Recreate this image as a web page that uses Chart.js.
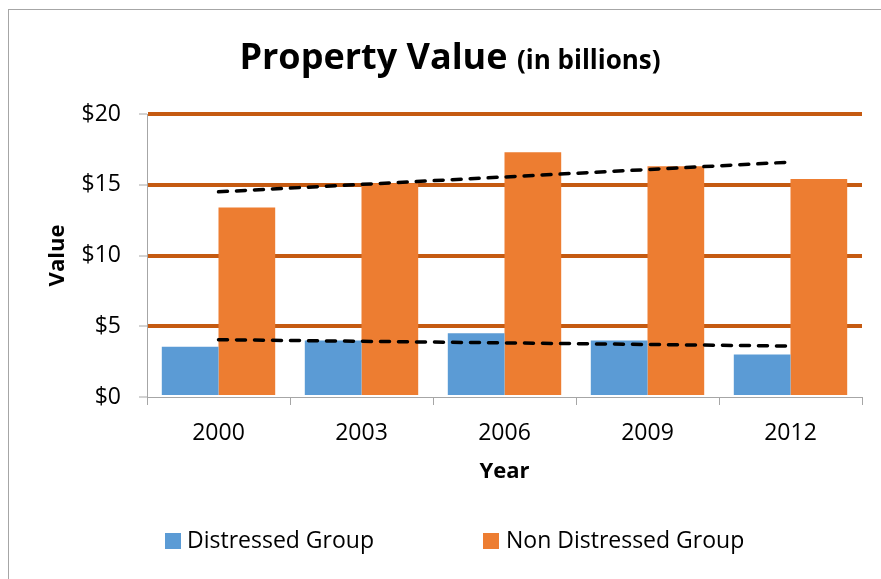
<!DOCTYPE html>
<html>
<head>
<meta charset="utf-8">
<script src="https://cdn.jsdelivr.net/npm/chart.js@4"></script>
<style>
    html, body { margin: 0; padding: 0; background: #fff; }
    #wrap { position: relative; width: 881px; height: 579px; overflow: hidden; font-family: 'Open Sans', sans-serif; }
    #frame { position: absolute; left: 8px; top: 9px; width: 900px; height: 600px; border-left: 1px solid #a6a6a6; border-top: 1px solid #a6a6a6; }
    #chart { position: absolute; left: 0; top: 0; }
    #title { position: absolute; left: 0; top: 36px; width: 900px; text-align: center; font-weight: bold; font-size: 36px; line-height: 40px; color: #000; white-space: nowrap; }
    #title span { font-size: 26px; }
    .legend-box { position: absolute; width: 16px; height: 16px; }
    .legend-text { position: absolute; font-size: 23px; line-height: 30px; color: #000; white-space: nowrap; }
</style>
</head>
<body>
<div id="wrap">
    <div id="frame"></div>
    <canvas id="chart" width="881" height="579"></canvas>
    <div id="title">Property Value <span>(in billions)</span></div>
    <div class="legend-box" style="left:165px; top:533px; background:#5b9bd5;"></div>
    <div class="legend-text" style="left:187px; top:524px;">Distressed Group</div>
    <div class="legend-box" style="left:483px; top:533px; background:#ed7d31;"></div>
    <div class="legend-text" style="left:506px; top:524px;">Non Distressed Group</div>
</div>
<script>
const years = ['2000', '2003', '2006', '2009', '2012'];
const distressed = [3.55, 4.0, 4.5, 4.0, 3.0];
const nonDistressed = [13.4, 15.1, 17.3, 16.3, 15.4];
// trendline ends (first and last year only)
const distressedTrend = [4.05, null, null, null, 3.6];
const nonDistressedTrend = [14.5, null, null, null, 16.6];
const yTicks = [0, 5, 10, 15, 20];

const BLUE = '#5b9bd5';
const ORANGE = '#ed7d31';
const GRID = '#c55a11';
const AXIS = '#a6a6a6';

Chart.defaults.font.family = "'Open Sans', sans-serif";
Chart.defaults.color = '#000';

function trendDataset(data) {
    return {
        type: 'line',
        data: data,
        order: 0,
        spanGaps: true,
        borderColor: '#000',
        borderWidth: 3.5,
        borderDash: [9, 9],
        borderCapStyle: 'round',
        pointRadius: 0,
        fill: false
    };
}

const ctx = document.getElementById('chart').getContext('2d');
new Chart(ctx, {
    type: 'bar',
    data: {
        labels: years,
        datasets: [
            { label: 'Distressed Group', data: distressed, backgroundColor: BLUE, order: 1,
              categoryPercentage: 0.793, barPercentage: 1.0 },
            { label: 'Non Distressed Group', data: nonDistressed, backgroundColor: ORANGE, order: 1,
              categoryPercentage: 0.793, barPercentage: 1.0 },
            trendDataset(distressedTrend),
            trendDataset(nonDistressedTrend)
        ]
    },
    options: {
        responsive: false,
        animation: false,
        layout: { padding: { left: 0, top: 114, right: 19, bottom: 94 } },
        plugins: {
            legend: { display: false },
            title: { display: false },
            tooltip: { enabled: false }
        },
        scales: {
            x: {
                afterFit: scale => { scale.height = 88; },
                border: { display: true, color: AXIS, width: 1 },
                grid: { offset: true, drawOnChartArea: false, drawTicks: true, tickLength: 8, tickColor: AXIS, tickWidth: 1 },
                ticks: { font: { size: 23 }, padding: 15, maxRotation: 0 },
                title: { display: true, text: 'Year', font: { size: 22, weight: 'bold' }, padding: { top: 0, bottom: 0 } }
            },
            y: {
                min: 0,
                max: 20,
                afterFit: scale => { scale.width = 147; },
                afterBuildTicks: scale => { scale.ticks = yTicks.map(v => ({ value: v })); },
                border: { display: true, color: AXIS, width: 1 },
                grid: {
                    color: c => (c.tick && c.tick.value === 0) ? 'rgba(0,0,0,0)' : GRID,
                    lineWidth: 4,
                    drawTicks: true,
                    tickLength: 8,
                    tickColor: AXIS,
                    tickWidth: 1
                },
                ticks: { font: { size: 23 }, padding: 18, callback: v => '$' + v },
                title: { display: true, text: 'Value', font: { size: 22, weight: 'bold' }, padding: { top: 45, bottom: 0 } }
            }
        }
    }
});
</script>
</body>
</html>
